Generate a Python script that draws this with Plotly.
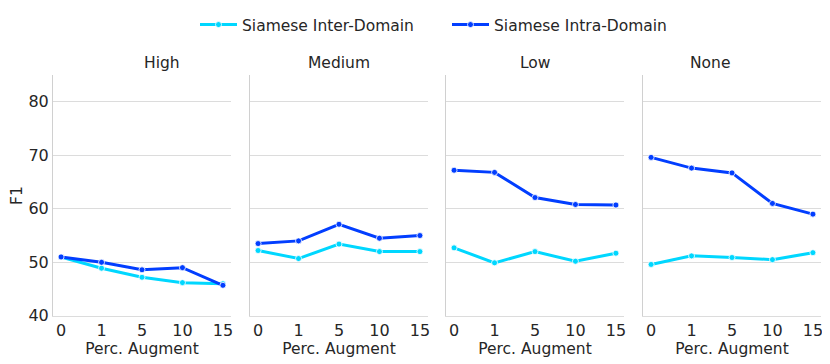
import plotly.graph_objects as go
from plotly.subplots import make_subplots

# data
augment = ["0", "1", "5", "10", "15"]
panels = ["High", "Medium", "Low", "None"]

inter_high = [51.0, 48.9, 47.2, 46.2, 46.0]
inter_medium = [52.2, 50.7, 53.4, 52.0, 52.0]
inter_low = [52.7, 49.9, 52.0, 50.2, 51.7]
inter_none = [49.6, 51.2, 50.9, 50.5, 51.8]

intra_high = [51.0, 50.0, 48.6, 49.0, 45.7]
intra_medium = [53.5, 54.0, 57.1, 54.5, 55.0]
intra_low = [67.2, 66.8, 62.1, 60.8, 60.7]
intra_none = [69.6, 67.6, 66.7, 61.0, 59.0]

inter_all = [inter_high, inter_medium, inter_low, inter_none]
intra_all = [intra_high, intra_medium, intra_low, intra_none]

INTER_COLOR = "#00d7ff"
INTRA_COLOR = "#023eff"
FONT = "DejaVu Sans"
TEXT = "#262626"

# the page body has an 8px margin, so the figure is shrunk to fit the window
OFF = 8
W, H = 830 - OFF, 364 - OFF


def fx(px):
    return (px - OFF) / W


def fy(py):
    return 1 - (py - OFF) / H


x_px = [(53, 231), (250, 428), (446, 624), (643, 821)]
y_dom = [fy(315), fy(70)]

fig = make_subplots(rows=1, cols=4, shared_yaxes=True)

for i in range(4):
    fig.add_trace(go.Scatter(
        x=augment, y=inter_all[i], mode="lines+markers",
        name="Siamese Inter-Domain", legend="legend", showlegend=(i == 0),
        line=dict(color=INTER_COLOR, width=3),
        marker=dict(size=6, color=INTER_COLOR, line=dict(color="white", width=0.8)),
    ), row=1, col=i + 1)
    fig.add_trace(go.Scatter(
        x=augment, y=intra_all[i], mode="lines+markers",
        name="Siamese Intra-Domain", legend="legend2", showlegend=(i == 0),
        line=dict(color=INTRA_COLOR, width=3),
        marker=dict(size=6, color=INTRA_COLOR, line=dict(color="white", width=0.8)),
    ), row=1, col=i + 1)

for i in range(4):
    sfx = "" if i == 0 else str(i + 1)
    fig.layout["xaxis" + sfx].update(
        domain=[fx(x_px[i][0]), fx(x_px[i][1])], automargin=False,
        type="category", range=[-0.2, 4.2],
        showgrid=False, showline=True, linecolor="#dcdcdc", linewidth=1,
        ticks="", ticklen=0, tickfont=dict(size=16, color=TEXT, family=FONT),
        title=dict(text="Perc. Augment", font=dict(size=15.5, color=TEXT, family=FONT), standoff=0),
        zeroline=False,
    )
    fig.layout["yaxis" + sfx].update(
        domain=y_dom, range=[40, 85], tickvals=[40, 50, 60, 70, 80], automargin=False,
        showgrid=True, gridcolor="#dcdcdc", gridwidth=1,
        showline=True, linecolor="#d0d0d0", linewidth=1,
        ticks="", showticklabels=(i == 0), zeroline=False,
        tickfont=dict(size=16, color=TEXT, family=FONT),
    )
    fig.add_annotation(
        text=panels[i], xref="paper", yref="paper",
        x=fx((x_px[i][0] + x_px[i][1]) / 2), y=fy(58), yanchor="middle",
        showarrow=False, font=dict(size=15.5, color=TEXT, family=FONT),
    )

fig.add_annotation(
    text="F1", xref="paper", yref="paper", x=fx(17), y=fy(193),
    xanchor="center", yanchor="middle", textangle=-90,
    showarrow=False, font=dict(size=15.5, color=TEXT, family=FONT),
)

legend_style = dict(
    orientation="h", xanchor="left", yanchor="middle", y=fy(19),
    font=dict(size=15.5, color=TEXT, family=FONT), itemwidth=37,
    bgcolor="rgba(0,0,0,0)",
)

fig.update_layout(
    width=W, height=H,
    margin=dict(l=0, r=0, t=0, b=0),
    plot_bgcolor="white", paper_bgcolor="white",
    font=dict(family=FONT, color=TEXT),
    legend=dict(x=fx(195), **legend_style),
    legend2=dict(x=fx(447), **legend_style),
)

fig.write_html("out.html")
